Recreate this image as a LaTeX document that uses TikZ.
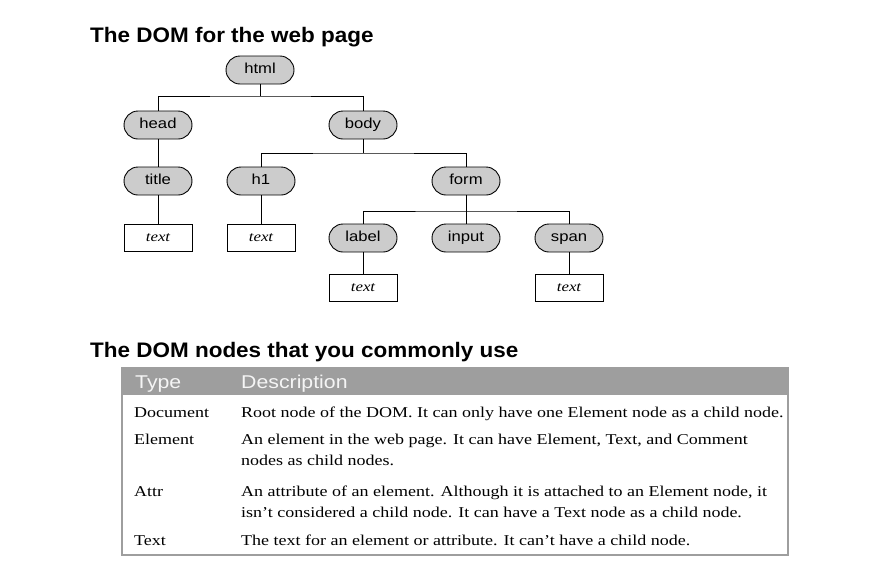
\documentclass[tikz,border=0pt]{standalone}
\usepackage{fontspec}
\setmainfont{Liberation Serif}[FakeStretch=1.2]
\setsansfont{Liberation Sans}[FakeStretch=1.15]
\newfontfamily\titlefont{Liberation Sans}[FakeStretch=1.07]
\usetikzlibrary{positioning}
\definecolor{ovalgray}{gray}{0.8}
\definecolor{headgray}{gray}{0.62}
\definecolor{headtext}{gray}{0.96}

\begin{document}
\begin{tikzpicture}[y=-1pt,x=1pt,
	elem/.style={draw, line width=0.9pt, fill=ovalgray, rounded corners=14pt, minimum width=68pt, minimum height=28pt, inner sep=0pt, text height=10.5pt, text depth=3pt, font=\sffamily\fontsize{14.5}{16}\selectfont},
	txtbox/.style={draw, line width=0.9pt, minimum width=68pt, minimum height=27pt, inner sep=0pt, text height=9pt, text depth=2pt, font=\itshape\fontsize{14}{16}\selectfont},
	heading/.style={anchor=base west, inner sep=0pt, font=\titlefont\bfseries\fontsize{21}{24}\selectfont},
	colhead/.style={anchor=base west, inner sep=0pt, text=headtext, font=\sffamily\fontsize{18.5}{22}\selectfont},
	cell/.style={anchor=base west, inner sep=0pt, align=left, font=\fontsize{15}{21}\selectfont}]
	\useasboundingbox (0,0) rectangle (879,576);

	% tree
	\node[heading] (treetitle) at (90,42) {The DOM for the web page};

	\node[elem] (html) at (260,70) {html};
	\node[elem] (head) at (158,125) {head};
	\node[elem] (body) at (363,125) {body};
	\node[elem] (title) at (158,181) {title};
	\node[elem] (h1) at (261,181) {h1};
	\node[elem] (form) at (466,181) {form};
	\node[elem] (label) at (363,238) {label};
	\node[elem] (input) at (466,238) {input};
	\node[elem] (span) at (569,238) {span};

	\node[txtbox] (titletext) at (158,238) {text};
	\node[txtbox] (h1text) at (261,238) {text};
	\node[txtbox] (labeltext) at (363,288) {text};
	\node[txtbox] (spantext) at (569,288) {text};

	\coordinate (htmlbar) at (260,96);
	\coordinate (bodybar) at (363,153);
	\coordinate (formbar) at (466,211);

	\draw[line width=0.9pt] (html) -- (htmlbar);
	\draw[line width=0.9pt] (head) |- (htmlbar) -| (body);
	\draw[line width=0.9pt] (body) -- (bodybar);
	\draw[line width=0.9pt] (h1) |- (bodybar) -| (form);
	\draw[line width=0.9pt] (form) -- (input);
	\draw[line width=0.9pt] (label) |- (formbar) -| (span);
	\draw[line width=0.9pt] (head) -- (title);
	\draw[line width=0.9pt] (title) -- (titletext);
	\draw[line width=0.9pt] (h1) -- (h1text);
	\draw[line width=0.9pt] (label) -- (labeltext);
	\draw[line width=0.9pt] (span) -- (spantext);

	% table
	\node[heading] (tabletitle) at (90,357) {The DOM nodes that you commonly use};

	\fill[headgray] (122,368) rectangle (788,395);
	\draw[headgray, line width=2pt] (122,368) rectangle (788,555);

	\node[colhead] (typehead) at (135,388) {Type};
	\node[colhead] (deschead) at (241,388) {Description};

	% two-line cells sit on the baseline of their last line
	\node[cell] (docname) at (134,417) {Document};
	\node[cell] (docdesc) at (241,417) {Root node of the DOM. It can only have one Element node as a child node.};
	\node[cell] (elemname) at (134,444) {Element};
	\node[cell] (elemdesc) at (241,465) {An element in the web page. It can have Element, Text, and Comment\\nodes as child nodes.};
	\node[cell] (attrname) at (134,496) {Attr};
	\node[cell] (attrdesc) at (241,517) {An attribute of an element. Although it is attached to an Element node, it\\isn’t considered a child node. It can have a Text node as a child node.};
	\node[cell] (textname) at (134,545) {Text};
	\node[cell] (textdesc) at (241,545) {The text for an element or attribute. It can’t have a child node.};
\end{tikzpicture}
\end{document}
